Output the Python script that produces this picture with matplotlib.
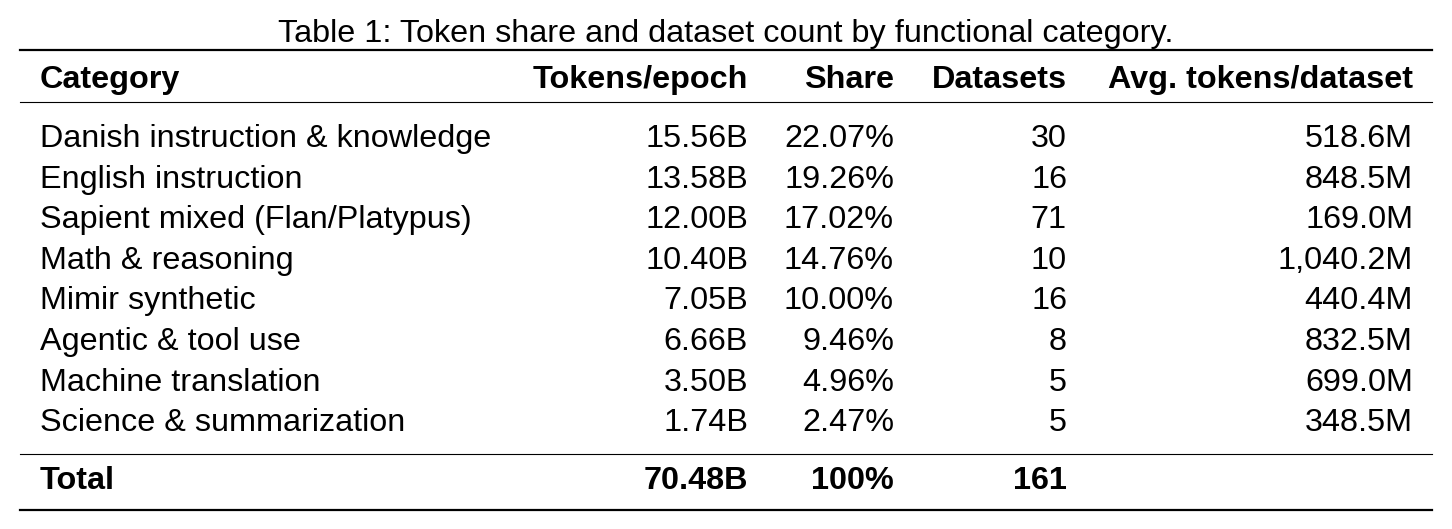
import matplotlib.pyplot as plt
from matplotlib.lines import Line2D

categories = ['Danish instruction & knowledge', 'English instruction',
              'Sapient mixed (Flan/Platypus)', 'Math & reasoning',
              'Mimir synthetic', 'Agentic & tool use', 'Machine translation',
              'Science & summarization']
tokens = ['15.56B', '13.58B', '12.00B', '10.40B', '7.05B', '6.66B', '3.50B', '1.74B']
share = ['22.07%', '19.26%', '17.02%', '14.76%', '10.00%', '9.46%', '4.96%', '2.47%']
datasets = ['30', '16', '71', '10', '16', '8', '5', '5']
avg_tokens = ['518.6M', '848.5M', '169.0M', '1,040.2M', '440.4M', '832.5M', '699.0M', '348.5M']
headers = ['Category', 'Tokens/epoch', 'Share', 'Datasets', 'Avg. tokens/dataset']
total = ['Total', '70.48B', '100%', '161', '']

W, H = 1452, 529
plt.rcParams['font.family'] = ['Liberation Sans', 'DejaVu Sans']
fig = plt.figure(figsize=(W / 100, H / 100), dpi=100)

def px(x, y):
    return x / W, 1 - y / H

def put(x, y, s, ha='left', bold=False, size=23.3):
    fig.text(*px(x, y), s, ha=ha, va='center', fontsize=size,
             fontweight='bold' if bold else 'normal')

def rule(y, lw):
    x0, y0 = px(20, y)
    x1, _ = px(1432, y)
    fig.add_artist(Line2D([x0, x1], [y0, y0], color='black', lw=lw,
                          transform=fig.transFigure))

put(726, 34, 'Table 1: Token share and dataset count by functional category.',
    ha='center', size=23.3)
rule(50, 1.6)
rule(102, 0.8)
rule(454, 0.8)
rule(510, 1.6)

col_x = [40, 748, 894, 1067, 1413]
col_ha = ['left', 'right', 'right', 'right', 'right']

for x, ha, h in zip(col_x, col_ha, headers):
    put(x, 80, h, ha=ha, bold=True)

rows = list(zip(categories, tokens, share, datasets, avg_tokens))
for i, row in enumerate(rows):
    y = 139 + i * 40.6
    for x, ha, v in zip(col_x, col_ha, row):
        put(x, y, v, ha=ha)

for x, ha, v in zip(col_x, col_ha, total):
    put(x, 481, v, ha=ha, bold=True)

fig.savefig('out.png', dpi=100, facecolor='white')
